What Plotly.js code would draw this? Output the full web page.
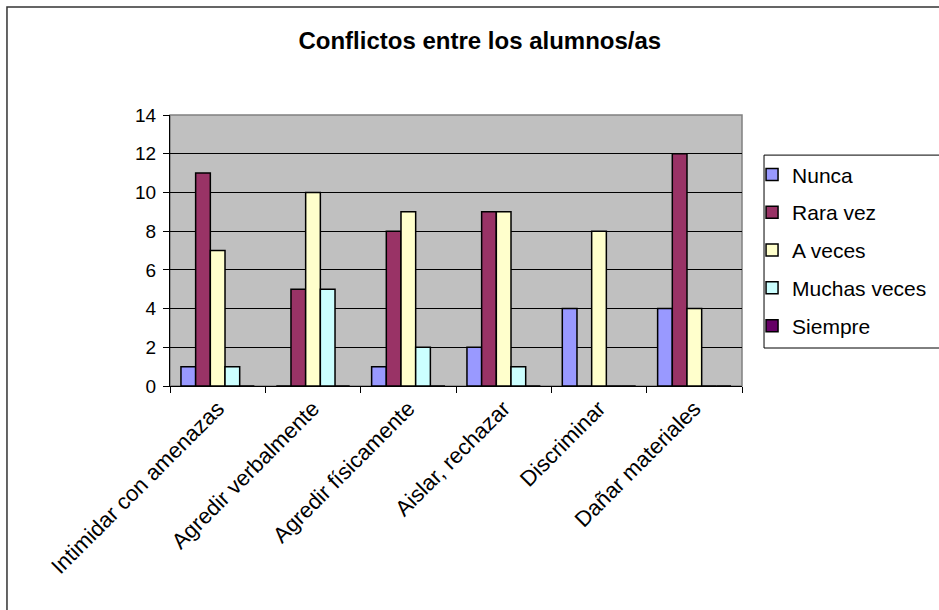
<!DOCTYPE html>
<html>
<head>
<meta charset="utf-8">
<script src="https://cdn.plot.ly/plotly-3.0.1.min.js"></script>
<style>html,body{margin:0;padding:0;background:#fff;} #chart{width:939px;height:610px;}</style>
</head>
<body>
<div id="chart"></div>
<script>
const categories = ["Intimidar con amenazas", "Agredir verbalmente", "Agredir físicamente", "Aislar, rechazar", "Discriminar", "Dañar materiales"];
const seriesNames = ["Nunca", "Rara vez", "A veces", "Muchas veces", "Siempre"];
const nunca = [1, 0, 1, 2, 4, 4];
const raraVez = [11, 5, 8, 9, 0, 12];
const aVeces = [7, 10, 9, 9, 8, 4];
const muchasVeces = [1, 5, 2, 1, 0, 0];
const siempre = [0, 0, 0, 0, 0, 0];
const yTicks = [0, 2, 4, 6, 8, 10, 12, 14];

const seriesValues = [nunca, raraVez, aVeces, muchasVeces, siempre];
const colors = ["#9999FF", "#993366", "#FFFFCC", "#CCFFFF", "#660066"];

const FONT = "Liberation Sans, Arial, sans-serif";

const traces = seriesValues.map((vals, i) => ({
  type: "bar",
  name: seriesNames[i],
  x: categories,
  y: vals,
  legendgroup: "g" + i,
  marker: {color: colors[i], line: {color: "#000000", width: 1.5}},
  hoverinfo: "none"
}));

const layout = {
  width: 939,
  height: 610,
  paper_bgcolor: "#FFFFFF",
  plot_bgcolor: "#C0C0C0",
  margin: {l: 170, r: 197, t: 115, b: 224},
  font: {family: FONT, color: "#000000", size: 19},
  title: {
    text: "<b>Conflictos entre los alumnos/as</b>",
    font: {family: FONT, size: 24, color: "#000000"},
    x: 0.511, xref: "container", xanchor: "center",
    y: 0.934, yref: "container", yanchor: "middle"
  },
  barmode: "group",
  bargap: 0.23,
  bargroupgap: 0,
  showlegend: true,
  legend: {
    xref: "container",
    x: 0.8009, xanchor: "left",
    y: 0.855, yanchor: "top",
    borderwidth: 0,
    bgcolor: "rgba(0,0,0,0)",
    font: {family: FONT, size: 21, color: "#000000"},
    tracegroupgap: 7.5,
    traceorder: "grouped",
    itemclick: false
  },
  xaxis: {
    type: "category",
    tickangle: -45,
    tickson: "boundaries",
    ticks: "outside",
    ticklen: 6,
    tickcolor: "#000000",
    showline: true,
    linecolor: "#000000",
    linewidth: 1,
    showgrid: false,
    tickfont: {family: FONT, size: 22, color: "#000000"},
    fixedrange: true
  },
  yaxis: {
    range: [0, 14],
    tickvals: yTicks,
    ticktext: yTicks.map(String),
    ticks: "outside",
    ticklen: 6,
    tickcolor: "#000000",
    ticklabelstandoff: 3,
    showline: true,
    linecolor: "#000000",
    linewidth: 1,
    showgrid: true,
    gridcolor: "#000000",
    gridwidth: 1,
    zeroline: false,
    tickfont: {family: FONT, size: 19, color: "#000000"},
    fixedrange: true
  },
  shapes: [
    {type: "rect", xref: "paper", yref: "paper", x0: 0, x1: 1, y0: 0, y1: 1,
     line: {color: "#808080", width: 1.5}, layer: "below"},
    {type: "rect", xref: "paper", yref: "paper", x0: -0.285, x1: 1.5, y0: -1, y1: 1.3985,
     line: {color: "#333333", width: 1.5}, fillcolor: "rgba(0,0,0,0)"},
    {type: "rect", xref: "paper", yref: "paper", x0: 1.0385, x1: 1.4, y0: 0.1402, y1: 0.852,
     line: {color: "#000000", width: 1}, fillcolor: "rgba(0,0,0,0)"}
  ]
};

Plotly.newPlot("chart", traces, layout, {staticPlot: true, displayModeBar: false});
</script>
</body>
</html>
